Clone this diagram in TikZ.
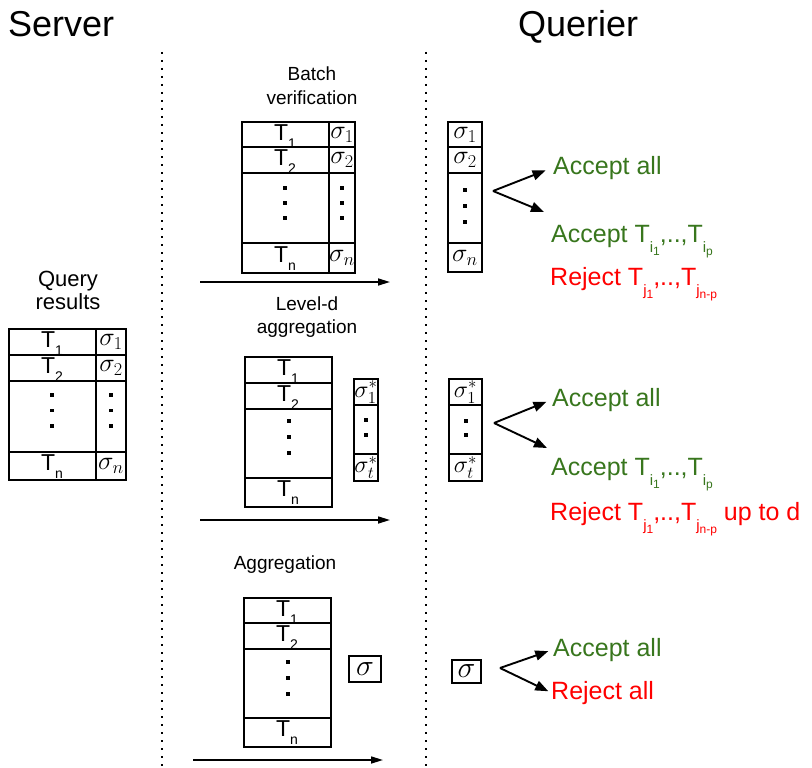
\RequirePackage{fix-cm}
\documentclass[tikz,border=0pt]{standalone}
\usepackage{fontspec}
\setmainfont{Liberation Sans}
\usetikzlibrary{arrows.meta}
\definecolor{okgreen}{HTML}{38761D}
\definecolor{badred}{HTML}{FF0000}

\newcommand\fs[1]{\fontsize{#1}{#1}\selectfont}
% T with a lowered index, as used inside the tables
\newcommand\Tcell[1]{T\raisebox{-8pt}{\fs{14}#1}}
% T with a two-level lowered index, as used in the verdict lines
\newcommand\Tq[2]{T\raisebox{-10pt}{\fs{15}#1\raisebox{-3pt}{\fs{12}#2}}}
% a column of small square dots: x, first y, spacing, count-1
\newcommand\dotcol[4]{\foreach \k in {0,...,#4}{\fill ({#1-1.8},{#2+\k*#3-1.8}) rectangle ++(3.6,3.6);}}

\begin{document}
\begin{tikzpicture}[x=1pt,y=-1pt,
  grid/.style={line width=1.8pt},
  sepline/.style={line width=2pt, dash pattern=on 2pt off 6pt},
  flow/.style={line width=1.6pt, -{Triangle[length=12pt,width=7pt]}},
  fork/.style={line width=1.9pt, -{Triangle[length=13pt,width=10pt]}},
  txt/.style={inner sep=0pt, anchor=base},
  head/.style={txt, anchor=base west, font=\fs{36}},
  lab/.style={txt, font=\fs{19}},
  cellT/.style={txt, font=\fs{23}},
  sig/.style={inner sep=0pt, font=\fs{26}},
  sigstar/.style={inner sep=0pt, font=\fs{24}},
  bigsig/.style={inner sep=0pt, font=\fs{30}},
  good/.style={txt, anchor=base west, font=\fs{25}, text=okgreen},
  bad/.style={txt, anchor=base west, font=\fs{25}, text=badred},
]
\useasboundingbox (0,0) rectangle (812,768);

% headings
\node[head] (server) at (8,37) {Server};
\node[head] (querier) at (518,37) {Querier};

% dotted column separators
\draw[sepline] (162,52) -- (162,768);
\draw[sepline] (426,52) -- (426,768);

% ---------- query results held by the server ----------
\node[lab, font=\fs{22}] (qr1) at (68,286) {Query};
\node[lab, font=\fs{22}] (qr2) at (68,309) {results};
\draw[grid] (9,329) rectangle (126,480);
\draw[grid] (9,355) -- (126,355) (9,381) -- (126,381) (9,452) -- (126,452) (96,329) -- (96,480);
\node[cellT] (lt1) at (52,347) {\Tcell{1}};
\node[cellT] (lt2) at (52,373) {\Tcell{2}};
\node[cellT] (ltn) at (52,470) {\Tcell{n}};
\node[sig] (ls1) at (111,342) {$\sigma_1$};
\node[sig] (ls2) at (111,368) {$\sigma_2$};
\node[sig] (lsn) at (111,466) {$\sigma_n$};
\dotcol{52}{395}{15.5}{2}
\dotcol{111}{395}{15.5}{2}

% ---------- batch verification ----------
\node[lab] (bv1) at (312,81) {Batch};
\node[lab] (bv2) at (312,105) {verification};
\draw[grid] (242,122) rectangle (355,273);
\draw[grid] (242,147) -- (355,147) (242,173) -- (355,173) (242,243) -- (355,243) (329,122) -- (329,273);
\node[cellT] (bt1) at (285,140) {\Tcell{1}};
\node[cellT] (bt2) at (285,165) {\Tcell{2}};
\node[cellT] (btn) at (285,262) {\Tcell{n}};
\node[sig] (bs1) at (342,134.5) {$\sigma_1$};
\node[sig] (bs2) at (342,160) {$\sigma_2$};
\node[sig] (bsn) at (342,258) {$\sigma_n$};
\dotcol{285}{188}{15}{2}
\dotcol{342}{188}{15}{2}
\coordinate (f1s) at (200,282);
\coordinate (f1e) at (390,282);
\draw[flow] (f1s) -- (f1e);

% querier side, batch verification
\draw[grid] (448,122) rectangle (482,272);
\draw[grid] (448,147) -- (482,147) (448,173) -- (482,173) (448,243) -- (482,243);
\node[sig] (qs1) at (465,134.5) {$\sigma_1$};
\node[sig] (qs2) at (465,160) {$\sigma_2$};
\node[sig] (qsn) at (465,257.5) {$\sigma_n$};
\dotcol{465}{190}{16}{2}
\node[good] (acc1) at (553,174) {Accept all};
\node[good] (part1) at (551,242) {Accept \Tq{i}{1},..,\Tq{i}{p}};
\node[bad] (rej1) at (550,285) {Reject \Tq{j}{1},..,\Tq{j}{n-p}};
\coordinate (b1) at (493,191);
\coordinate (b1lo) at (544,212);
\draw[fork, shorten >=8pt] (b1) -- (acc1.west);
\draw[fork] (b1) -- (b1lo);

% ---------- level-d aggregation ----------
\node[lab] (la1) at (307,310) {Level-d};
\node[lab] (la2) at (307,333) {aggregation};
\draw[grid] (245,357) rectangle (332,507);
\draw[grid] (245,383) -- (332,383) (245,409) -- (332,409) (245,478) -- (332,478);
\node[cellT] (mt1) at (288,375) {\Tcell{1}};
\node[cellT] (mt2) at (288,401) {\Tcell{2}};
\node[cellT] (mtn) at (288,496) {\Tcell{n}};
\dotcol{289}{421}{16}{2}
\draw[grid] (354,379) rectangle (378,481);
\draw[grid] (354,405) -- (378,405) (354,454) -- (378,454);
\node[sigstar] (ms1) at (366,392) {$\sigma^*_1$};
\node[sigstar] (mst) at (366,467.5) {$\sigma^*_t$};
\dotcol{366}{420}{15}{1}
\coordinate (f2s) at (200,520);
\coordinate (f2e) at (390,520);
\draw[flow] (f2s) -- (f2e);

% querier side, level-d aggregation
\draw[grid] (449,379) rectangle (482,481);
\draw[grid] (449,405) -- (482,405) (449,454) -- (482,454);
\node[sigstar] (qm1) at (465.5,392) {$\sigma^*_1$};
\node[sigstar] (qmt) at (465.5,467.5) {$\sigma^*_t$};
\dotcol{466}{421}{14}{1}
\node[good] (acc2) at (552,406) {Accept all};
\node[good] (part2) at (551,475) {Accept \Tq{i}{1},..,\Tq{i}{p}};
\node[bad] (rej2) at (550,520) {Reject \Tq{j}{1},..,\Tq{j}{n-p} up to d};
\coordinate (b2) at (494,423);
\coordinate (b2lo) at (547,448);
\draw[fork, shorten >=6pt] (b2) -- (acc2.west);
\draw[fork] (b2) -- (b2lo);

% ---------- full aggregation ----------
\node[lab] (ag) at (285,569) {Aggregation};
\draw[grid] (244,598) rectangle (331,747);
\draw[grid] (244,623) -- (331,623) (244,649) -- (331,649) (244,718) -- (331,718);
\node[cellT] (at1) at (287,616) {\Tcell{1}};
\node[cellT] (at2) at (287,641) {\Tcell{2}};
\node[cellT] (atn) at (287,736) {\Tcell{n}};
\dotcol{288}{662}{16}{2}
\node[bigsig, draw, line width=1.8pt, minimum width=32pt, minimum height=26pt] (asig) at (365,669) {$\sigma$};
\coordinate (f3s) at (193,760);
\coordinate (f3e) at (383,760);
\draw[flow] (f3s) -- (f3e);

% querier side, full aggregation
\node[bigsig, draw, line width=1.8pt, minimum width=29pt, minimum height=23pt] (qsig) at (466.5,671.5) {$\sigma$};
\node[good] (acc3) at (553,656) {Accept all};
\node[bad] (rej3) at (551,699) {Reject all};
\coordinate (b3) at (500,668);
\draw[fork, shorten >=5pt] (b3) -- (acc3.west);
\draw[fork, shorten >=3pt] (b3) -- (rej3.west);
\end{tikzpicture}
\end{document}
